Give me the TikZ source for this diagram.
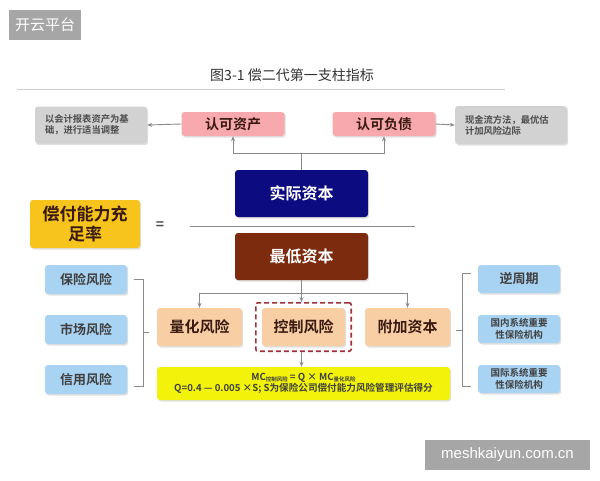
\documentclass[tikz,border=0pt]{standalone}
\usepackage{fontspec}
\setmainfont{Noto Sans CJK SC}[BoldFont={Noto Sans CJK SC Bold}]
\newfontfamily\wmfont{Liberation Sans}
\usetikzlibrary{shadows,fit,arrows.meta}
\definecolor{wmgray}{HTML}{A6A6A6}
\definecolor{gbox}{HTML}{D2D2D2}
\definecolor{pinkbox}{HTML}{F7A9AD}
\definecolor{navybox}{HTML}{0C0C80}
\definecolor{brownbox}{HTML}{7D2B0E}
\definecolor{goldbox}{HTML}{F6C41D}
\definecolor{peachbox}{HTML}{F8CFA5}
\definecolor{yelbox}{HTML}{F2F20A}
\definecolor{bluebox}{HTML}{A9D3F3}
\definecolor{dashred}{HTML}{A0303A}
\definecolor{lincol}{HTML}{8A8A8A}
\definecolor{txtdark}{HTML}{3A1A10}
\tikzset{
  boxbase/.style={rounded corners=3pt, draw=none, align=center, inner sep=1pt,
    drop shadow={opacity=0.25, shadow xshift=1.2pt, shadow yshift=-1.5pt}},
  graybox/.style={boxbase, fill=gbox, minimum width=112pt, minimum height=37pt,
    font=\fontsize{9.3}{11}\selectfont\bfseries, text=black!70, align=left,
    text width=92pt},
  pinkb/.style={boxbase, fill=pinkbox, minimum width=103pt, minimum height=24pt,
    font=\fontsize{14}{16}\selectfont\bfseries, text=txtdark},
  bigb/.style={boxbase, minimum width=133pt, minimum height=47pt,
    font=\fontsize{16}{18}\selectfont\bfseries, text=white},
  peachb/.style={boxbase, fill=peachbox, minimum width=85pt, minimum height=38pt,
    font=\fontsize{15}{17}\selectfont\bfseries, text=txtdark},
  blueb/.style={boxbase, fill=bluebox, minimum width=82pt, minimum height=29pt,
    font=\fontsize{13}{15}\selectfont\bfseries, text=black!75},
  bluesm/.style={blueb, font=\fontsize{9.5}{11.5}\selectfont\bfseries},
  conn/.style={draw=lincol, line width=0.9pt},
  arr/.style={conn, -{Stealth[length=5pt,width=4pt]}},
}
\begin{document}
\begin{tikzpicture}[x=1pt,y=-1pt]
\useasboundingbox (0,0) rectangle (600,480);
\fill[white] (0,0) rectangle (600,480);
% watermarks
\node[fill=wmgray, minimum width=72pt, minimum height=30pt, inner sep=0pt,
  text=white, font=\fontsize{15}{17}\selectfont] (wm1) at (45,25) {开云平台};
\node[fill=wmgray, minimum width=165pt, minimum height=30pt, inner sep=0pt,
  text=white, font=\wmfont\fontsize{15}{17}\selectfont] (wm2) at (507.5,455) {meshkaiyun.com.cn};
% title
\node[font=\fontsize{14}{16}\selectfont, text=black!80] (title) at (292,75) {图3-1 偿二代第一支柱指标};
\draw[black!20, line width=0.8pt] (17,89) coordinate (tl1) -- (505,89) coordinate (tl2);
% top row
\node[graybox] (gL) at (91,125) {以会计报表资产为基\\础，进行适当调整};
\node[pinkb] (zc) at (233,124) {认可资产};
\node[pinkb] (fz) at (384,124) {认可负债};
\node[graybox, minimum height=38pt] (gR) at (511,125) {现金流方法，最优估\\计加风险边际};
% capital
\node[bigb, fill=navybox] (sj) at (301.5,193.5) {实际资本};
\node[bigb, fill=brownbox] (zd) at (301.5,256.5) {最低资本};
\node[boxbase, fill=goldbox, minimum width=110pt, minimum height=48pt,
  font=\fontsize{17}{20}\selectfont\bfseries, text=txtdark] (cf) at (85,224) {偿付能力充\\足率};
\node[font=\fontsize{14}{14}\selectfont\bfseries, text=black!70] (eq) at (160,226) {=};
\draw[conn, line width=0.7pt] (190,226) coordinate (fl1) -- (415,226) coordinate (fl2);
% second row
\node[peachb] (lh) at (199.5,327) {量化风险};
\node[peachb, minimum width=83pt] (kz) at (303.5,327) {控制风险};
\node[peachb] (fj) at (407.5,327) {附加资本};
\node[draw=dashred, dashed, dash pattern=on 5pt off 3pt, line width=1.6pt, rounded corners=2pt,
  fit=(kz), inner xsep=6pt, inner ysep=5pt] (kzd) {};
\node[boxbase, fill=yelbox, minimum width=293pt, minimum height=33pt,
  font=\fontsize{9.6}{11.5}\selectfont\bfseries, text=black!75] (gs) at (303.5,383.5)
  {MC\raisebox{-1.5pt}{\fontsize{5.5}{5.5}\selectfont 控制风险} = Q × MC\raisebox{-1.5pt}{\fontsize{5.5}{5.5}\selectfont 量化风险}\\
   Q=0.4 — 0.005 ×S; S为保险公司偿付能力风险管理评估得分};
% left blue
\node[blueb] (b1) at (86,279.5) {保险风险};
\node[blueb] (b2) at (86,329.5) {市场风险};
\node[blueb] (b3) at (86,379.5) {信用风险};
% right blue
\node[blueb, minimum height=28pt] (r1) at (519,279) {逆周期};
\node[bluesm, minimum height=28pt] (r2) at (519,329) {国内系统重要\\性保险机构};
\node[bluesm, minimum height=28pt] (r3) at (519,379) {国际系统重要\\性保险机构};
% connectors top
\draw[conn] (sj.north) -- (301.5,153) coordinate (j1);
\draw[arr] (j1) -| (zc.south);
\draw[arr] (j1) -| (fz.south);
\draw[arr] (zc.west) -- (gL.east);
\draw[arr] (fz.east) -- (gR.west);
% connectors bottom
\draw[conn] (zd.south) -- (301.5,293) coordinate (j2);
\draw[arr] (j2) -| (lh.north);
\draw[arr] (j2) -| (fj.north);
\draw[arr] (j2) -- (j2 |- kzd.north);
\draw[arr] (kzd.south -| j2) -- (j2 |- gs.north);
% left bracket
\draw[conn, line width=0.7pt] (134,279) coordinate (lb1) -- (143,279) -- (143,386) -- (134,386) coordinate (lb2);
\draw[conn, line width=0.7pt] (143,332) -- (149,332) coordinate (lb3);
% right bracket
\draw[conn, line width=0.7pt] (471,273) coordinate (rb1) -- (462,273) -- (462,386) -- (471,386) coordinate (rb2);
\draw[conn, line width=0.7pt] (462,330) -- (456,330) coordinate (rb3);
\end{tikzpicture}
\end{document}
